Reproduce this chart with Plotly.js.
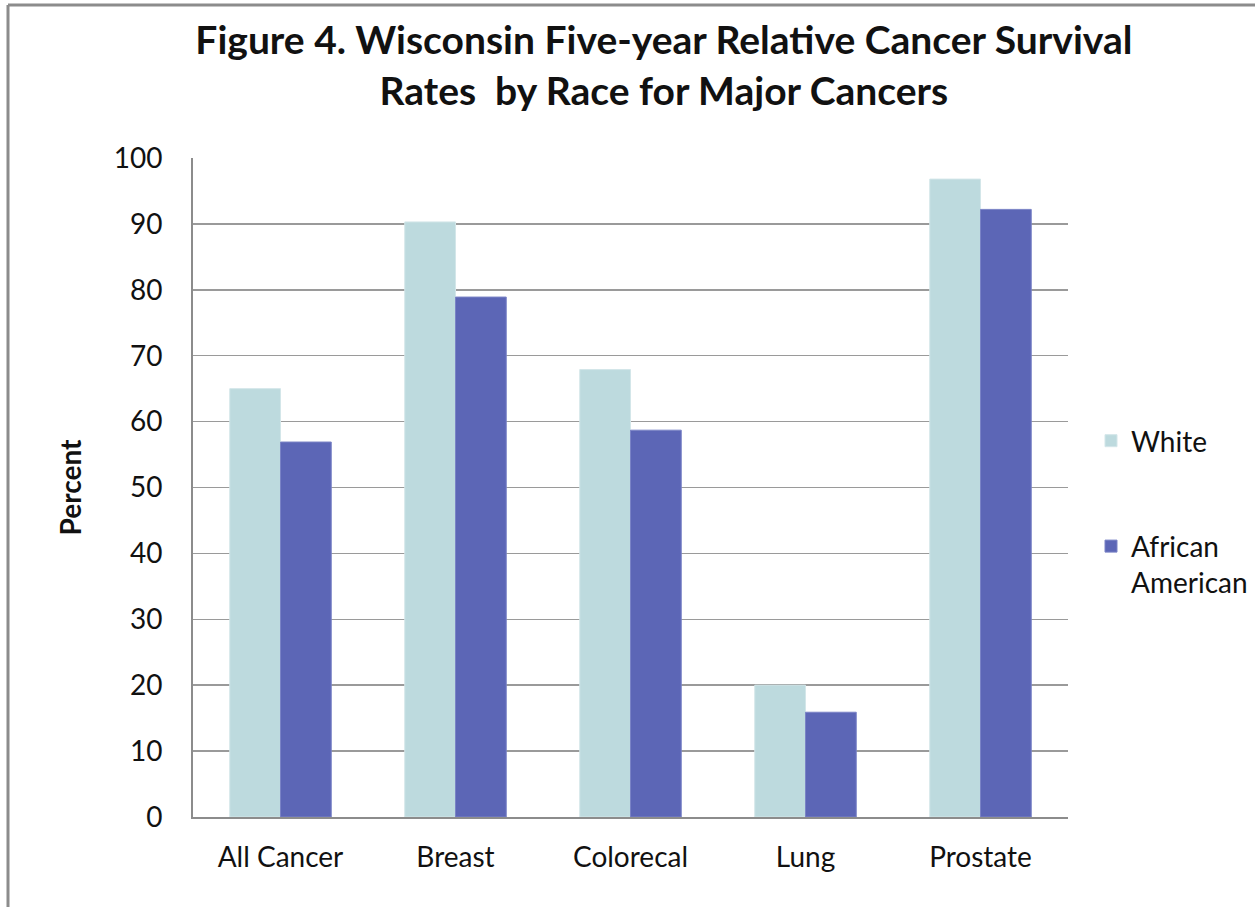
<!DOCTYPE html>
<html>
<head>
<meta charset="utf-8">
<script src="https://cdn.plot.ly/plotly-3.0.1.min.js"></script>
<style>
  html, body { margin: 0; padding: 0; background: #ffffff; }
  #chart { width: 1255px; height: 907px; }
</style>
</head>
<body>
<div id="chart"></div>
<script>
const categories = ["All Cancer", "Breast", "Colorecal", "Lung", "Prostate"];
const whiteValues = [65, 90.3, 67.9, 20, 96.8];
const africanAmericanValues = [56.9, 78.9, 58.7, 15.9, 92.2];
const seriesNames = ["White", "African<br>American"];
const yTickValues = [0, 10, 20, 30, 40, 50, 60, 70, 80, 90, 100];

const FONT = "Lato, 'Open Sans', sans-serif";

const traces = [
  {
    type: "bar",
    name: seriesNames[0],
    x: categories,
    y: whiteValues,
    marker: { color: "#BDDADE", line: { color: "#D3E6E9", width: 1 } },
    legendgroup: "w",
    hoverinfo: "x+y"
  },
  {
    type: "bar",
    name: seriesNames[1],
    x: categories,
    y: africanAmericanValues,
    marker: { color: "#5C66B6", line: { color: "#7A83C6", width: 1 } },
    legendgroup: "aa",
    hoverinfo: "x+y"
  }
];

const layout = {
  width: 1255,
  height: 907,
  paper_bgcolor: "#ffffff",
  plot_bgcolor: "#ffffff",
  margin: { l: 193, r: 187, t: 158, b: 90, autoexpand: false },
  font: { family: FONT, color: "#111111", size: 28 },
  title: {
    text: "<b>Figure 4. Wisconsin Five-year Relative Cancer Survival<br>Rates  by Race for Major Cancers</b>",
    font: { family: FONT, size: 39, color: "#111111" },
    x: 0.529,
    xanchor: "center",
    y: 0.94,
    yanchor: "top",
    yref: "container"
  },
  barmode: "group",
  bargap: 0.42,
  bargroupgap: 0,
  showlegend: true,
  legend: {
    xref: "container",
    yref: "container",
    x: 1091 / 1255,
    xanchor: "left",
    y: 1 - 416 / 907,
    yanchor: "top",
    font: { family: FONT, size: 28, color: "#111111" },
    valign: "top",
    tracegroupgap: 66,
    itemwidth: 30,
    bgcolor: "rgba(0,0,0,0)"
  },
  xaxis: {
    type: "category",
    showline: true,
    linecolor: "#8c8c8c",
    linewidth: 2,
    showgrid: false,
    ticks: "",
    tickfont: { family: FONT, size: 28, color: "#111111" },
    ticklabelstandoff: 14,
    fixedrange: true
  },
  yaxis: {
    range: [0, 100],
    tickvals: yTickValues,
    ticktext: yTickValues.map(String),
    showline: true,
    linecolor: "#8c8c8c",
    linewidth: 2,
    showgrid: true,
    gridcolor: "#9a9a9a",
    gridwidth: 1.5,
    zeroline: false,
    ticks: "",
    tickfont: { family: FONT, size: 28, color: "#111111" },
    ticklabelstandoff: 23,
    title: {
      text: "<b>Percent</b>",
      font: { family: FONT, size: 28, color: "#111111" },
      standoff: 24
    },
    fixedrange: true
  },
  shapes: [
    {
      type: "line", xref: "paper", yref: "paper",
      x0: (8 - 193) / 875, x1: (1255 - 193) / 875,
      y0: (817 - 5) / 659, y1: (817 - 5) / 659,
      line: { color: "#8c8c8c", width: 3 }
    },
    {
      type: "line", xref: "paper", yref: "paper",
      x0: (8 - 193) / 875, x1: (8 - 193) / 875,
      y0: (817 - 5) / 659, y1: (817 - 907) / 659,
      line: { color: "#8c8c8c", width: 3 }
    }
  ]
};

Plotly.newPlot("chart", traces, layout, { displayModeBar: false, staticPlot: true });
</script>
</body>
</html>
